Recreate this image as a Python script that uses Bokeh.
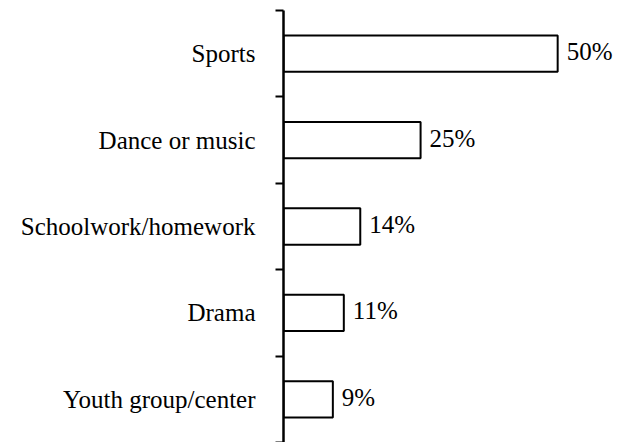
from bokeh.plotting import figure
from bokeh.models import Range1d, FixedTicker, ColumnDataSource
from bokeh.core.properties import value
from bokeh.embed import file_html
from bokeh.resources import INLINE

categories = ["Sports", "Dance or music", "Schoolwork/homework", "Drama", "Youth group/center"]
values = [50, 25, 14, 11, 9]
value_labels = ["50%", "25%", "14%", "11%", "9%"]

ypos = list(range(len(categories)))
src = ColumnDataSource(dict(y=ypos, v=values, lab=value_labels))

FONT = "Liberation Serif"

p = figure(width=629, height=442, output_backend="svg", toolbar_location=None,
           x_range=Range1d(0, 63.1), y_range=Range1d(len(categories) - 0.5, -0.5),
           min_border_left=283, min_border_right=0, min_border_top=10, min_border_bottom=0)
p.outline_line_color = None
p.xgrid.visible = False
p.ygrid.visible = False
p.xaxis.visible = False

p.hbar(y="y", right="v", left=0, height=0.42, source=src,
       fill_color="white", line_color="black", line_width=2)
p.text(x="v", y="y", text="lab", source=src, x_offset=9, y_offset=-2,
       text_font=value(FONT), text_font_size="25px", text_baseline="middle",
       text_align="left", text_color="black")

ax = p.yaxis[0]
ax.ticker = FixedTicker(ticks=ypos, minor_ticks=[i - 0.5 for i in range(len(categories) + 1)])
ax.major_label_overrides = {i: c for i, c in enumerate(categories)}
ax.major_tick_out = 0
ax.major_tick_in = 0
ax.minor_tick_out = 8
ax.minor_tick_in = 0
ax.minor_tick_line_width = 2
ax.minor_tick_line_color = "black"
ax.axis_line_width = 2.5
ax.axis_line_color = "black"
ax.major_label_standoff = 20
ax.major_label_text_font = FONT
ax.major_label_text_font_size = "25px"
ax.major_label_text_color = "black"

open("out.html", "w").write(file_html(p, INLINE))
